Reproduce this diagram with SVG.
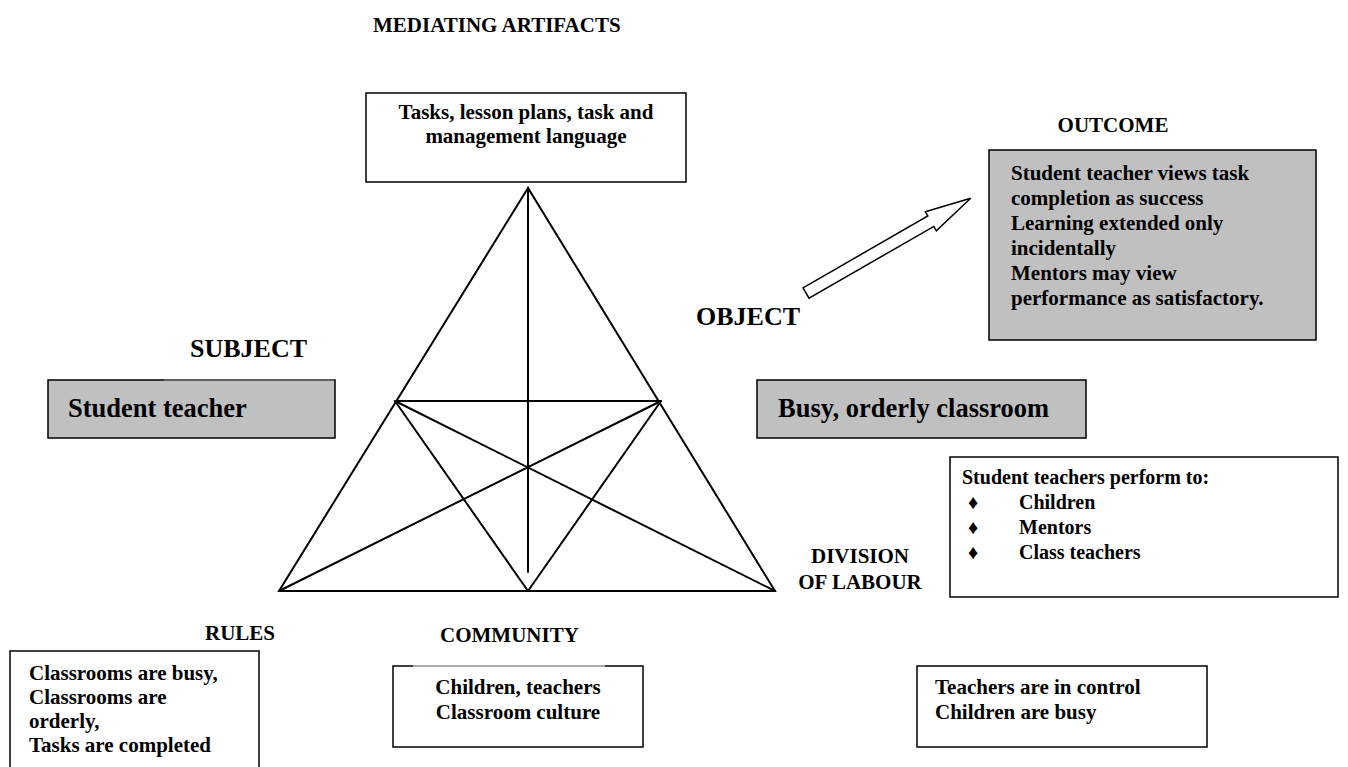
<svg xmlns="http://www.w3.org/2000/svg" width="1348" height="767" viewBox="0 0 1348 767">
  <style>
    text { font-family: "Liberation Serif", "Times New Roman", serif; font-weight: bold; fill: #000; }
    .lbl { font-size: 21px; }
    .big { font-size: 26px; }
    .mid { font-size: 26.5px; }
    .body { font-size: 21px; }
    .list { font-size: 20px; }
    .box { fill: #fff; stroke: #000; stroke-width: 1.5; }
    .shade { fill: #c0c0c0; stroke: #000; stroke-width: 1.5; }
    .edge { stroke: #000; stroke-width: 2; fill: none; stroke-linecap: round; }
    .faint { stroke-width: 1; fill: none; }
  </style>
  <rect width="1348" height="767" fill="#fff"/>

  <!-- activity-system triangle and the object-to-outcome arrow -->
  <g id="connectors">
    <polygon class="edge" points="528,188 279,591 775,591"/>
    <line class="edge" x1="528" y1="188" x2="528" y2="572"/>
    <line class="edge" x1="395" y1="401" x2="661" y2="401"/>
    <line class="edge" x1="395" y1="401" x2="528" y2="591"/>
    <line class="edge" x1="661" y1="401" x2="528" y2="591"/>
    <line class="edge" x1="395" y1="401" x2="775" y2="591"/>
    <line class="edge" x1="661" y1="401" x2="279" y2="591"/>
    <polygon fill="#fff" stroke="#000" stroke-width="1.5" stroke-linejoin="miter"
      transform="translate(806,293) rotate(-29.9)"
      points="0,-6 144,-6 144,-11 190,0 144,11 144,6 0,6"/>
  </g>

  <g id="mediating">
    <text class="lbl" x="373" y="32">MEDIATING ARTIFACTS</text>
    <rect class="box" x="366" y="93" width="320" height="89"/>
    <text class="body" x="526" y="119" text-anchor="middle">Tasks, lesson plans, task and</text>
    <text class="body" x="526" y="143" text-anchor="middle">management language</text>
  </g>

  <g id="outcome">
    <text class="lbl" x="1113" y="132" text-anchor="middle">OUTCOME</text>
    <rect class="shade" x="989" y="150" width="327" height="190"/>
    <text class="body" x="1011" y="180">Student teacher views task</text>
    <text class="body" x="1011" y="205">completion as success</text>
    <text class="body" x="1011" y="230">Learning extended only</text>
    <text class="body" x="1011" y="255">incidentally</text>
    <text class="body" x="1011" y="280">Mentors may view</text>
    <text class="body" x="1011" y="305">performance as satisfactory.</text>
  </g>

  <g id="subject">
    <text class="big" x="190" y="357">SUBJECT</text>
    <rect class="shade" x="48" y="380" width="287" height="58"/>
    <!-- lighter run along the top edge -->
    <line class="faint" x1="164" y1="380" x2="334" y2="380" stroke="#c0c0c0" stroke-width="1.6"/>
    <line class="faint" x1="164" y1="380" x2="334" y2="380" stroke="#444" stroke-width="0.8"/>
    <text class="mid" x="68" y="417">Student teacher</text>
  </g>

  <g id="object">
    <text class="big" x="696" y="325">OBJECT</text>
    <rect class="shade" x="757" y="380" width="329" height="58"/>
    <text class="mid" x="778" y="417">Busy, orderly classroom</text>
  </g>

  <g id="division">
    <text class="lbl" x="860" y="563" text-anchor="middle">DIVISION</text>
    <text class="lbl" x="860" y="589" text-anchor="middle">OF LABOUR</text>
    <rect class="box" x="950" y="457" width="388" height="140"/>
    <text class="list" x="962" y="484">Student teachers perform to:</text>
    <text class="list" x="968" y="509">♦</text>
    <text class="list" x="1019" y="509">Children</text>
    <text class="list" x="968" y="534">♦</text>
    <text class="list" x="1019" y="534">Mentors</text>
    <text class="list" x="968" y="559">♦</text>
    <text class="list" x="1019" y="559">Class teachers</text>
  </g>

  <g id="rules">
    <text class="lbl" x="205" y="640">RULES</text>
    <rect class="box" x="10" y="651" width="249" height="130"/>
    <text class="body" x="29" y="680">Classrooms are busy,</text>
    <text class="body" x="29" y="704">Classrooms are</text>
    <text class="body" x="29" y="728">orderly,</text>
    <text class="body" x="29" y="752">Tasks are completed</text>
  </g>

  <g id="community">
    <text class="lbl" x="440" y="642">COMMUNITY</text>
    <rect class="box" x="393" y="666" width="250" height="81"/>
    <!-- faded middle run of the top edge -->
    <line class="faint" x1="413" y1="666" x2="605" y2="666" stroke="#fff" stroke-width="2"/>
    <line class="faint" x1="413" y1="666" x2="605" y2="666" stroke="#bbb" stroke-width="1"/>
    <text class="body" x="518" y="694" text-anchor="middle">Children, teachers</text>
    <text class="body" x="518" y="719" text-anchor="middle">Classroom culture</text>
  </g>

  <g id="division-notes">
    <rect class="box" x="917" y="666" width="290" height="81"/>
    <text class="body" x="935" y="694">Teachers are in control</text>
    <text class="body" x="935" y="719">Children are busy</text>
  </g>
</svg>
